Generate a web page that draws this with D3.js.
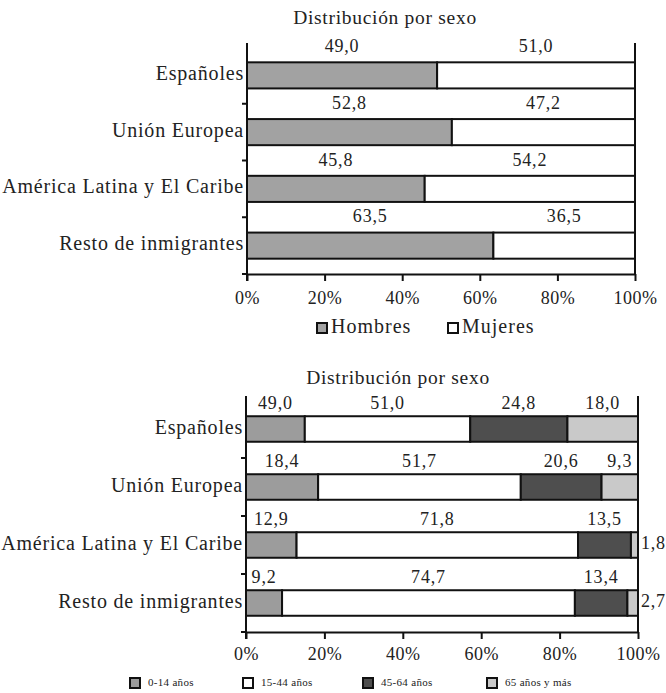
<!DOCTYPE html>
<html><head><meta charset="utf-8">
<script src="https://cdn.jsdelivr.net/npm/d3@7/dist/d3.min.js"></script>
<style>
html,body{margin:0;padding:0;background:#fff;}
svg text{font-family:'Liberation Serif','DejaVu Serif',serif !important;fill:#222;}
</style></head>
<body>
<svg id="c" width="666" height="693" font-family="Liberation Serif, DejaVu Serif, serif"></svg>
<script>
// ---- data ----
const categories = ["Españoles","Unión Europea","América Latina y El Caribe","Resto de inmigrantes"];
const chartTitle = "Distribución por sexo";
const sexSeries = ["Hombres","Mujeres"];
const hombres = [49.0, 52.8, 45.8, 63.5];
const mujeres = [51.0, 47.2, 54.2, 36.5];
const ageSeries = ["0-14 años","15-44 años","45-64 años","65 años y más"];
const age0_14  = [15.0, 18.4, 12.9, 9.2];
const age15_44 = [42.2, 51.7, 71.8, 74.7];
const age45_64 = [24.8, 20.6, 13.5, 13.4];
const age65    = [18.0, 9.3, 1.8, 2.7];
// label texts as printed in the source
const lab0_14  = ["49,0","18,4","12,9","9,2"];
const lab15_44 = ["51,0","51,7","71,8","74,7"];
const lab45_64 = ["24,8","20,6","13,5","13,4"];
const lab65    = ["18,0","9,3","1,8","2,7"];
const xTicks = [0,20,40,60,80,100];

const FONT = "'Liberation Serif','DejaVu Serif',serif";
const fmt = v => v.toFixed(1).replace(".", ",");
const svg = d3.select("#c");
svg.append("rect").attr("width",666).attr("height",693).attr("fill","#fff");

function drawChart(cfg){
  const g = svg.append("g");
  const x = d3.scaleLinear().domain([0,100]).range([cfg.x0, cfg.x1]);
  const y = d3.scaleBand().domain(categories).range([cfg.top, cfg.bottom])
              .paddingInner(cfg.pad).paddingOuter(cfg.pad/2);
  const gap = y.step() - y.bandwidth();

  // title
  g.append("text").attr("x", cfg.titleX).attr("y", cfg.titleY)
   .attr("text-anchor","middle").attr("dominant-baseline","middle")
   .style("font-family",FONT).style("font-size","19.5px").style("letter-spacing","0.7px").text(chartTitle);

  // stacked data
  const rows = categories.map((c,i)=>{
    let acc = 0;
    return cfg.series.map((s,j)=>{
      const v = s.values[i]; const seg = {cat:c, i, j, x0:acc, x1:acc+v, v, label:s.labels[i], color:s.color};
      acc += v; return seg;
    });
  }).flat();

  g.selectAll("rect.seg").data(rows).join("rect").attr("class","seg")
   .attr("x", d=>x(d.x0)).attr("width", d=>x(d.x1)-x(d.x0))
   .attr("y", d=>y(d.cat)).attr("height", y.bandwidth())
   .attr("fill", d=>d.color).attr("stroke","#111").attr("stroke-width",2);

  // labels
  g.selectAll("text.lab").data(rows).join("text").attr("class","lab")
   .attr("x", d=> d.v < 5 ? x(100)+3 : x((d.x0+d.x1)/2))
   .attr("y", d=> d.v < 5 ? y(d.cat)+y.bandwidth()/2 : y(d.cat) - gap/2 + cfg.labOff)
   .attr("text-anchor", d=> d.v < 5 ? "start" : "middle")
   .attr("dominant-baseline","middle")
   .style("font-family",FONT).style("font-size","18px").style("letter-spacing","0.8px")
   .text(d=>d.label);

  // axes lines
  g.append("line").attr("x1",cfg.x0).attr("x2",cfg.x0).attr("y1",cfg.top-4).attr("y2",cfg.bottom+7)
   .attr("stroke","#111").attr("stroke-width",2);
  g.append("line").attr("x1",cfg.x1).attr("x2",cfg.x1).attr("y1",cfg.top-4).attr("y2",cfg.bottom)
   .attr("stroke","#111").attr("stroke-width",2);
  // category boundary ticks
  const bounds = categories.map(c => y(c) - gap/2 + y.step());
  g.selectAll("line.ct").data(bounds).join("line").attr("class","ct")
   .attr("x1",cfg.x0-5).attr("x2",cfg.x0).attr("y1",d=>d).attr("y2",d=>d)
   .attr("stroke","#111").attr("stroke-width",2);

  const ax = g.append("g").attr("transform",`translate(0,${cfg.bottom})`)
    .call(d3.axisBottom(x).tickValues(xTicks).tickSize(7).tickSizeOuter(0).tickPadding(cfg.tickPad).tickFormat(d=>d+"%"));
  ax.attr("font-family",null).attr("font-size",null);
  ax.select(".domain").attr("stroke","#111").attr("stroke-width",2);
  ax.selectAll(".tick line").attr("stroke","#111").attr("stroke-width",2);
  ax.selectAll(".tick text").style("font-family",FONT).style("font-size","18px")
    .style("letter-spacing","0.5px").attr("fill","#222");

  // category labels
  g.selectAll("text.cat").data(categories).join("text").attr("class","cat")
   .attr("x", cfg.x0-3).attr("y", d=>y(d)+y.bandwidth()/2)
   .attr("text-anchor","end").attr("dominant-baseline","middle")
   .style("font-family",FONT).style("font-size","20px").style("letter-spacing","0.8px").text(d=>d);

  // legend
  const lg = g.selectAll("g.leg").data(cfg.series).join("g").attr("class","leg")
    .attr("transform",(d,i)=>`translate(${cfg.legX[i]},${cfg.legY})`);
  lg.append("rect").attr("x",0).attr("y",-cfg.legSq/2).attr("width",cfg.legSq).attr("height",cfg.legSq)
    .attr("fill",d=>d.color).attr("stroke","#111").attr("stroke-width",2);
  lg.append("text").attr("x",cfg.legSq+cfg.legGap).attr("y",0).attr("dominant-baseline","middle")
    .style("font-family",FONT).style("font-size",cfg.legFont+"px").style("letter-spacing",cfg.legLs+"px").text(d=>d.name);
}

drawChart({
  top:47, bottom:274, x0:247, x1:635, pad:0.54, labOff:1, tickPad:10,
  titleX:385, titleY:20,
  series:[
    {name:sexSeries[0], values:hombres, labels:hombres.map(fmt), color:"#a2a2a2"},
    {name:sexSeries[1], values:mujeres, labels:mujeres.map(fmt), color:"#ffffff"}
  ],
  legX:[317,448], legY:328, legSq:10, legGap:4, legFont:20, legLs:1
});

drawChart({
  top:400, bottom:632, x0:246, x1:638, pad:0.56, labOff:5, tickPad:8,
  titleX:398, titleY:380,
  series:[
    {name:ageSeries[0], values:age0_14,  labels:lab0_14,  color:"#9c9c9c"},
    {name:ageSeries[1], values:age15_44, labels:lab15_44, color:"#ffffff"},
    {name:ageSeries[2], values:age45_64, labels:lab45_64, color:"#4e4e4e"},
    {name:ageSeries[3], values:age65,    labels:lab65,    color:"#c9c9c9"}
  ],
  legX:[130,243,363,487], legY:683, legSq:10, legGap:8, legFont:11, legLs:0.3
});
</script>
</body></html>
